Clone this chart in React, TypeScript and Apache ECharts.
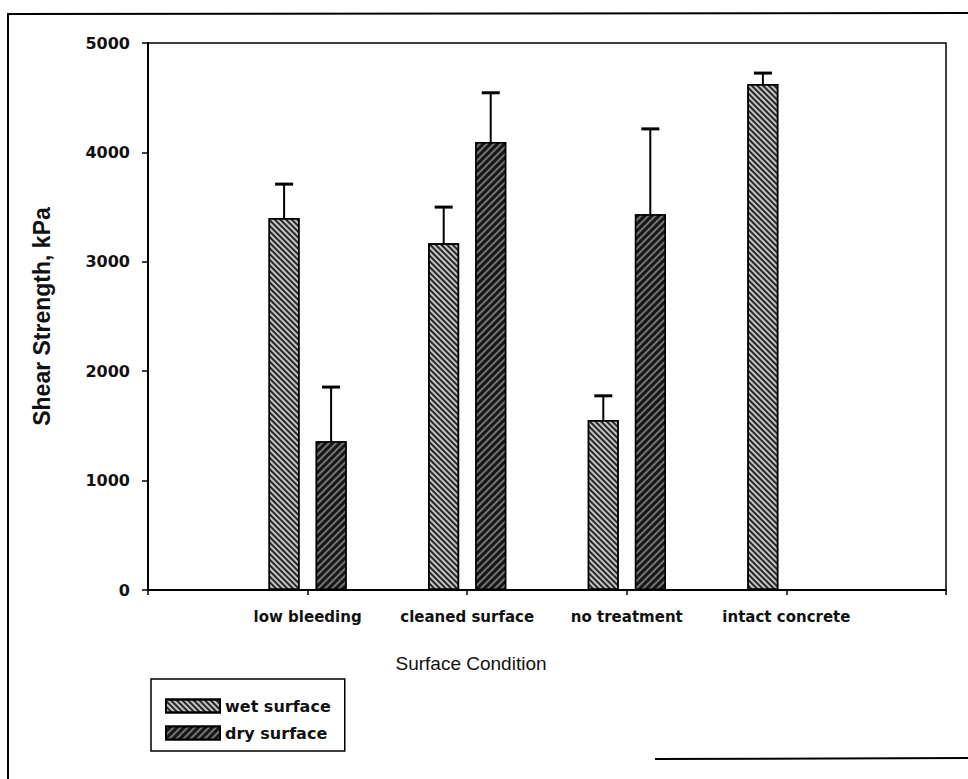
import React, { useEffect, useRef } from "react";
import * as echarts from "echarts";

const categories = ["", "low bleeding", "cleaned surface", "no treatment", "intact concrete", ""];
const wetValues = [null, 3400, 3170, 1555, 4625, null];
const dryValues = [null, 1360, 4095, 3435, null, null];
const wetUpper = [null, 3710, 3500, 1775, 4725, null];
const dryUpper = [null, 1855, 4545, 4215, null, null];
const seriesNames = ["wet surface", "dry surface"];
const yMin = 0;
const yMax = 5000;
const yInterval = 1000;
const xTitle = "Surface Condition";
const yTitle = "Shear Strength, kPa";

function errData(vals: (number | null)[], ups: (number | null)[]) {
  const out: number[][] = [];
  vals.forEach((v, i) => {
    const u = ups[i];
    if (v != null && u != null) out.push([i, v, u]);
  });
  return out;
}

function errRender(offset: number) {
  return (params: any, api: any) => {
    const x = api.value(0);
    const p0 = api.coord([x, api.value(1)]);
    const p1 = api.coord([x, api.value(2)]);
    const cx = p0[0] + offset;
    return {
      type: "group",
      children: [
        { type: "line", shape: { x1: cx, y1: p0[1], x2: cx, y2: p1[1] }, style: { stroke: "#000", lineWidth: 2 } },
        { type: "line", shape: { x1: cx - 9, y1: p1[1], x2: cx + 9, y2: p1[1] }, style: { stroke: "#000", lineWidth: 3 } },
      ],
    };
  };
}

export default function App() {
  const ref = useRef<HTMLDivElement>(null);
  useEffect(() => {
    if (!ref.current) return;
    const chart = echarts.init(ref.current, null, { renderer: "svg" });
    const tickFont = { fontFamily: "DejaVu Sans", fontWeight: "bold" as const, color: "#111" };
    chart.setOption({
      animation: false,
      backgroundColor: "#fff",
      grid: { left: 148, right: 22, top: 43, bottom: 189, show: true, borderColor: "#000", borderWidth: 1.5, containLabel: false },
      legend: {
        data: seriesNames,
        orient: "vertical",
        left: 151,
        top: 679,
        itemWidth: 54,
        itemHeight: 13,
        itemGap: 11,
        icon: "rect",
        borderColor: "#000",
        borderWidth: 1.5,
        borderRadius: 0,
        padding: [19, 14, 10, 14],
        textStyle: { ...tickFont, fontSize: 16 },
      },
      xAxis: {
        type: "category",
        data: categories,
        boundaryGap: false,
        axisLine: { show: true, lineStyle: { color: "#000", width: 2 } },
        axisTick: { show: true, length: 5, lineStyle: { color: "#000", width: 1.5 } },
        axisLabel: { interval: 0, margin: 19, fontSize: 15, ...tickFont },
        splitLine: { show: false },
      },
      yAxis: {
        type: "value",
        min: yMin,
        max: yMax,
        interval: yInterval,
        name: yTitle,
        nameLocation: "middle",
        nameGap: 95,
        nameTextStyle: { fontFamily: "Liberation Sans", fontWeight: "bold", fontSize: 23, color: "#111" },
        axisLine: { show: true, lineStyle: { color: "#000", width: 2 } },
        axisTick: { show: true, length: 6, lineStyle: { color: "#000", width: 1.5 } },
        axisLabel: { margin: 18, fontSize: 16, ...tickFont, formatter: (v: number) => String(v) },
        splitLine: { show: false },
      },
      series: [
        {
          name: seriesNames[0],
          type: "bar",
          data: wetValues,
          barWidth: 31,
          barGap: "52%",
          itemStyle: {
            color: "#c4c4c4",
            borderColor: "#000",
            borderWidth: 1.5,
            decal: {
              symbol: "rect",
              symbolSize: 1,
              color: "rgba(0,0,0,0.8)",
              dashArrayX: [1, 0],
              dashArrayY: [2, 1.5],
              rotation: Math.PI / 4,
            },
          },
        },
        {
          name: seriesNames[1],
          type: "bar",
          data: dryValues,
          barWidth: 31,
          barGap: "52%",
          itemStyle: {
            color: "#161616",
            borderColor: "#000",
            borderWidth: 1.5,
            decal: {
              symbol: "rect",
              symbolSize: 1,
              color: "rgba(255,255,255,0.4)",
              dashArrayX: [1, 0],
              dashArrayY: [1.5, 3],
              rotation: -Math.PI / 4,
            },
          },
        },
        {
          name: "wet error",
          type: "custom",
          z: 5,
          renderItem: errRender(-23.5),
          data: errData(wetValues, wetUpper),
          encode: { x: 0, y: [1, 2] },
        },
        {
          name: "dry error",
          type: "custom",
          z: 5,
          renderItem: errRender(23.5),
          data: errData(dryValues, dryUpper),
          encode: { x: 0, y: [1, 2] },
        },
      ],
      graphic: [
        {
          type: "text",
          x: 471,
          y: 663,
          style: { text: xTitle, font: '19px "Liberation Sans"', fill: "#111", textAlign: "center", textVerticalAlign: "middle" },
        },
        { type: "line", shape: { x1: 7, y1: 14, x2: 968, y2: 13 }, style: { stroke: "#000", lineWidth: 2 } },
        { type: "line", shape: { x1: 8, y1: 13, x2: 8, y2: 779 }, style: { stroke: "#000", lineWidth: 2 } },
        { type: "line", shape: { x1: 655, y1: 759, x2: 968, y2: 758 }, style: { stroke: "#000", lineWidth: 2 } },
      ],
    });
    return () => chart.dispose();
  }, []);
  return <div ref={ref} style={{ position: "fixed", left: 0, top: 0, width: 968, height: 779 }} />;
}
